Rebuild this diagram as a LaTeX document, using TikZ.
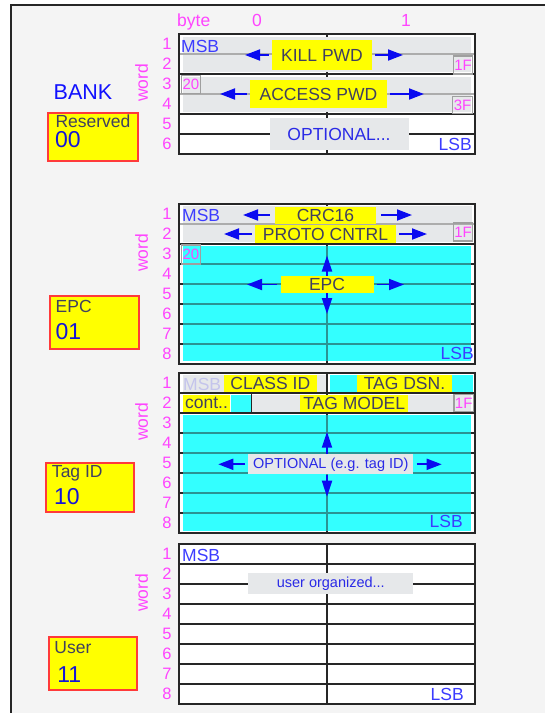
\documentclass[tikz,border=0pt]{standalone}
\usepackage{fontspec}
\setmainfont{Liberation Sans}
\usetikzlibrary{positioning,arrows.meta,calc}

\definecolor{bgray}{HTML}{F4F4F4}
\definecolor{fldgray}{HTML}{E6E8EA}
\definecolor{lblyel}{HTML}{FFFF00}
\definecolor{fldcyan}{HTML}{33FFFF}
\definecolor{rowteal}{HTML}{2A9494}
\definecolor{numpink}{HTML}{FF44FF}
\definecolor{txtblue}{HTML}{2A2AE6}
\definecolor{msbblue}{HTML}{3C3CFF}
\definecolor{arrblue}{HTML}{0A0AF0}
\definecolor{bankblue}{HTML}{1010FF}
\definecolor{codeblue}{HTML}{1414D8}
\definecolor{txtslate}{HTML}{404060}
\definecolor{boxred}{HTML}{FF3A3A}
\definecolor{gridblk}{HTML}{262626}
\definecolor{msbfade}{HTML}{C4C4EC}

\begin{document}
\begin{tikzpicture}[x=1pt,y=-1pt,
  font=\fontsize{17.5}{19}\selectfont,
  lbl/.style={fill=lblyel,text=txtslate,inner sep=0pt,minimum height=17pt},
  optlbl/.style={fill=fldgray,text=txtblue,inner sep=0pt},
  hexbox/.style={draw=gray!75,line width=1.2pt,text=numpink,inner sep=0pt,
                 minimum width=19pt,minimum height=18pt,font=\fontsize{15}{16}\selectfont},
  arr/.style={-{Triangle[length=15pt,width=11pt]},arrblue,line width=1.8pt,shorten <=3pt},
  varr/.style={arr,-{Triangle[length=16pt,width=10pt]},shorten <=0pt},
  rownum/.style={text=numpink,inner sep=0pt,font=\fontsize{16.5}{18}\selectfont},
  wordlbl/.style={text=numpink,rotate=90,inner sep=0pt},
  endlbl/.style={text=msbblue,inner sep=0pt},
  bankbox/.style={fill=lblyel,draw=boxred,line width=2pt,inner sep=0pt},
  banktitle/.style={text=txtslate,anchor=base west,inner sep=0pt},
  bankcode/.style={text=codeblue,anchor=base west,inner sep=0pt,
                   font=\fontsize{23}{25}\selectfont},
  gridline/.style={gridblk,line width=1.4pt},
  sepline/.style={gray!65,line width=1.1pt},
  tealline/.style={rowteal,line width=1.4pt},
]
\useasboundingbox (0,0) rectangle (545,713);
\fill[white] (0,0) rectangle (545,713);
\fill[bgray] (11,5) rectangle (545,713);
\draw[gridblk,line width=1.5pt] (11,713) -- (11,5) -- (545,5);

% header
\node[text=numpink,anchor=base west,inner sep=0pt] (bytehd) at (177,26) {byte};
\node[text=numpink,anchor=base,inner sep=0pt] (byte0) at (257,26) {0};
\node[text=numpink,anchor=base,inner sep=0pt] (byte1) at (406,26) {1};
\node[text=bankblue,font=\fontsize{21.5}{23}\selectfont] (bank) at (83,92) {BANK};

% ---- reserved bank ----
\fill[white] (179,34) rectangle (475,154);
\draw[gridline] (327,34) -- (327,154);
\foreach \y in {74,114,134} \draw[gridline] (179,\y) -- (475,\y);
\fill[fldgray] (183,37) rectangle (471,72);
\fill[fldgray] (183,77) rectangle (471,112);
\foreach \y in {54,94} \draw[sepline] (179,\y) -- (475,\y);
\draw[gridline,line width=2pt] (179,34) rectangle (475,154);

\node[endlbl,anchor=base west] (resmsb) at (181,52.5) {MSB};
\node[lbl,minimum width=100pt,minimum height=30pt] (kill) at (322,55) {KILL PWD};
\coordinate (killw) at (245,55);
\coordinate (kille) at (403,55);
\draw[arr] (kill) -- (killw);
\draw[arr] (kill) -- (kille);
\node[hexbox] (res1f) at (463,65) {1F};
\node[hexbox,minimum height=18pt] (res20) at (191,84.5) {20};
\node[lbl,minimum width=137pt,minimum height=28pt] (access) at (318.5,94) {ACCESS PWD};
\coordinate (accw) at (220,94);
\coordinate (acce) at (424,94);
\draw[arr] (access) -- (accw);
\draw[arr] (access) -- (acce);
\node[hexbox,minimum width=20pt,minimum height=17pt] (res3f) at (462.5,105) {3F};
\node[optlbl,minimum width=139pt,minimum height=32pt] (resopt) at (339,134) {OPTIONAL...};
\node[endlbl,anchor=base east] (reslsb) at (472,150.5) {LSB};
\foreach \n in {1,...,6} \node[rownum] (resr\n) at (167,{24+20*\n}) {\n};
\node[wordlbl] (resword) at (141.5,83) {word};

% ---- EPC bank ----
\fill[white] (179,204) rectangle (475,364);
\draw[gridline] (327,204) -- (327,364);
\foreach \y in {244,264,...,344} \draw[gridline] (179,\y) -- (475,\y);
\fill[fldgray] (183,206) rectangle (471.5,241.5);
\fill[fldcyan] (183,246) rectangle (471,361);
\draw[sepline] (179,224) -- (475,224);
\foreach \y in {264,284,...,344} \draw[tealline] (183,\y) -- (471,\y);
\draw[tealline] (327,246) -- (327,361);
\draw[gridline,line width=2pt] (179,204) rectangle (475,364);

\node[endlbl,anchor=base west] (epcmsb) at (182,221.5) {MSB};
\node[lbl,minimum width=101pt] (crc) at (325.5,215) {CRC16};
\coordinate (crcw) at (243,215);
\coordinate (crce) at (412,215);
\draw[arr,shorten <=5pt] (crc) -- (crcw);
\draw[arr,shorten <=5pt] (crc) -- (crce);
\node[lbl,minimum width=141pt,minimum height=18pt] (proto) at (325.5,234) {PROTO CNTRL};
\coordinate (protow) at (224,234);
\coordinate (protoe) at (427,234);
\draw[arr] (proto) -- (protow);
\draw[arr] (proto) -- (protoe);
\node[hexbox] (epc1f) at (463,232) {1F};
\node[hexbox,minimum height=19pt] (epc20) at (191,254.5) {20};
\node[lbl,minimum width=93pt] (epcfld) at (327,284.5) {EPC};
\coordinate (epcw) at (247,284.5);
\coordinate (epce) at (404,284.5);
\coordinate (epcup) at (327,255.5);
\coordinate (epcdn) at (327,314);
\draw[arr] (epcfld) -- (epcw);
\draw[arr] (epcfld) -- (epce);
\draw[varr] (epcfld.north) -- (epcup);
\draw[varr] (epcfld.south) -- (epcdn);
\node[endlbl,anchor=base east] (epclsb) at (474,359) {LSB};
\foreach \n in {1,...,8} \node[rownum] (epcr\n) at (167,{194+20*\n}) {\n};
\node[wordlbl] (epcword) at (141.5,253) {word};

% ---- Tag ID bank ----
\fill[white] (179,373) rectangle (475,533);
\draw[gridline] (327,373) -- (327,533);
\foreach \y in {393,413,...,513} \draw[gridline] (179,\y) -- (475,\y);
\fill[fldgray] (183,375) rectangle (325.5,391.5);
\fill[fldcyan] (329.5,375) rectangle (473,391.5);
\fill[fldcyan] (231,395) rectangle (251,411.5);
\fill[fldgray] (252,395) rectangle (471,411.5);
\fill[fldcyan] (183,415) rectangle (471,531);
\foreach \y in {433,453,...,513} \draw[tealline] (183,\y) -- (471,\y);
\draw[tealline] (327,415) -- (327,531);
\draw[gridline] (251.7,393) -- (251.7,413);
\draw[gridline,line width=2pt] (179,373) rectangle (475,533);

\node[endlbl,text=msbfade,anchor=base west] (tagmsb) at (183,390) {MSB};
\node[lbl,minimum width=93pt] (classid) at (270.3,383.3) {CLASS ID};
\node[lbl,minimum width=94.5pt] (tagdsn) at (404.5,383.3) {TAG DSN.};
\node[lbl,minimum width=47pt] (cont) at (206.5,403.3) {cont..};
\node[lbl,minimum width=108pt] (tagmodel) at (354.2,403.3) {TAG MODEL};
\node[hexbox,minimum width=19.5pt,minimum height=17pt] (tag1f) at (463.7,403.3) {1F};
\node[optlbl,minimum width=165pt,minimum height=20pt,font=\fontsize{14.5}{16}\selectfont]
  (tagopt) at (330.8,464.3) {OPTIONAL (e.g. tag ID)};
\coordinate (tagw) at (218.3,464.3);
\coordinate (tage) at (441.7,464.3);
\coordinate (tagup) at (327,431.7);
\coordinate (tagdn) at (327,496.7);
\draw[arr] (tagopt) -- (tagw);
\draw[arr] (tagopt) -- (tage);
\draw[varr] (tagopt.north -| tagup) -- (tagup);
\draw[varr] (tagopt.south -| tagdn) -- (tagdn);
\node[endlbl,anchor=base east] (taglsb) at (463,527.5) {LSB};
\foreach \n in {1,...,8} \node[rownum] (tagr\n) at (167,{363+20*\n}) {\n};
\node[wordlbl] (tagword) at (141.5,422) {word};

% ---- user bank ----
\fill[white] (179,544) rectangle (475,704);
\draw[gridline] (327,544) -- (327,704);
\foreach \y in {564,584,...,684} \draw[gridline] (179,\y) -- (475,\y);
\draw[gridline,line width=2pt] (179,544) rectangle (475,704);
\node[endlbl,anchor=base west] (usrmsb) at (182,561.5) {MSB};
\node[optlbl,minimum width=165pt,minimum height=21pt,font=\fontsize{14.5}{16}\selectfont]
  (usropt) at (330.8,583.8) {user organized...};
\node[endlbl,anchor=base east] (usrlsb) at (464,700.5) {LSB};
\foreach \n in {1,...,8} \node[rownum] (usrr\n) at (167,{534+20*\n}) {\n};
\node[wordlbl] (usrword) at (141.5,593) {word};

% bank codes
\node[bankbox,minimum width=90pt,minimum height=48pt] (resbox) at (93.3,136.5) {};
\node[banktitle] (restitle) at ($(resbox.north west)+(8,16)$) {Reserved};
\node[bankcode] (rescode) at ($(resbox.north west)+(7.5,36)$) {00};
\node[bankbox,minimum width=89pt,minimum height=53pt] (epcbox) at (94.5,322.7) {};
\node[banktitle] (epctitle) at ($(epcbox.north west)+(6.5,17.5)$) {EPC};
\node[bankcode] (epccode) at ($(epcbox.north west)+(6.5,44)$) {01};
\node[bankbox,minimum width=88pt,minimum height=49pt] (tagbox) at (89.8,487.2) {};
\node[banktitle] (tagtitle) at ($(tagbox.north west)+(7,16)$) {Tag ID};
\node[bankcode] (tagcode) at ($(tagbox.north west)+(9,42.5)$) {10};
\node[bankbox,minimum width=88pt,minimum height=52.5pt] (usrbox) at (93.2,663.7) {};
\node[banktitle] (usrtitle) at ($(usrbox.north west)+(6,17)$) {User};
\node[bankcode] (usrcode) at ($(usrbox.north west)+(9,46)$) {11};
\end{tikzpicture}
\end{document}
